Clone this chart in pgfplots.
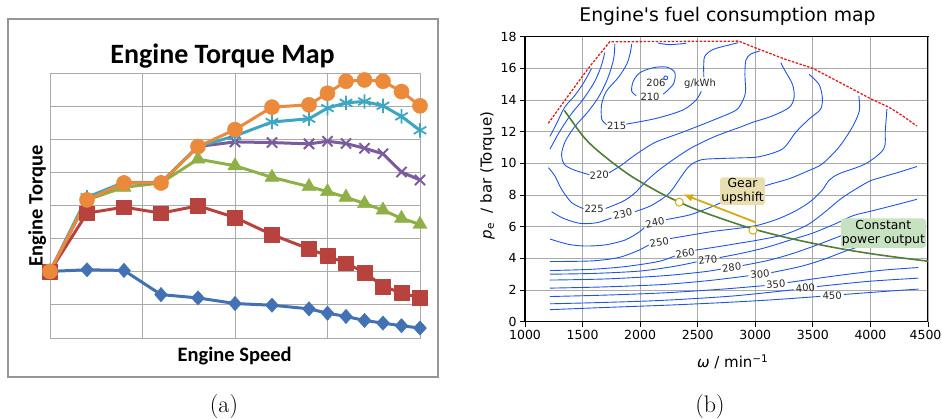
\documentclass[border=0pt]{standalone}
\usepackage{fontspec}
\usepackage{pgfplots}
\pgfplotsset{compat=1.18}
\usetikzlibrary{arrows.meta}
\newfontfamily\dejavu{DejaVu Sans}
\newfontfamily\carlito{Carlito}
\definecolor{xblue}{RGB}{66,114,180}
\definecolor{xred}{RGB}{184,66,62}
\definecolor{xgreen}{RGB}{143,176,71}
\definecolor{xpurple}{RGB}{122,92,158}
\definecolor{xteal}{RGB}{63,166,194}
\definecolor{xorange}{RGB}{235,138,58}
\definecolor{agrid}{RGB}{170,170,170}
\definecolor{aframe}{RGB}{150,150,150}
\definecolor{bgrid}{RGB}{170,170,170}
\definecolor{cblue}{RGB}{30,85,230}
\definecolor{fullred}{RGB}{220,30,30}
\definecolor{powgreen}{RGB}{80,125,55}
\definecolor{gold}{RGB}{215,170,20}
\definecolor{gearfill}{RGB}{233,222,175}
\definecolor{powfill}{RGB}{198,226,192}
\pgfplotsset{
  cont/.style={color=cblue, line width=0.9pt, smooth, no marks},
  ser/.style={line width=3pt, line join=round},
}
\tikzset{clab/.style={font=\dejavu\fontsize{10}{12}\selectfont, text=black!85, inner sep=0pt}}
\begin{document}
\begin{tikzpicture}[x=1pt,y=1pt]
\path[use as bounding box] (0,0) rectangle (942,418);
% ---------------- panel (a)
\draw[color=aframe, line width=1.3pt] (8,41) rectangle (438,399);
\begin{axis}[at={(50pt,80pt)}, anchor=south west, scale only axis,
  width=370pt, height=265pt, xmin=0, xmax=20, ymin=0, ymax=8,
  xtick={0,5,10,15,20}, ytick={0,1,2,3,4,5,6,7,8},
  xticklabels={}, yticklabels={}, major tick length=0pt,
  grid=major, grid style={color=agrid, line width=0.9pt},
  axis line style={color=agrid, line width=0.9pt}, clip=false]
\addplot[ser, color=xblue, mark=diamond*, mark size=7.2pt, mark options={solid, line width=0.4pt, fill=xblue, xscale=1.2}]
 coordinates {(0,2.01)(2,2.06)(4,2.04)(6,1.31)(8,1.21)(10,1.04)(12,0.99)(14,0.88)(15,0.75)(16,0.65)(17,0.53)(18,0.45)(19,0.37)(20,0.30)};
\addplot[ser, color=xred, mark=square*, mark size=7.4pt, mark options={solid, line width=0.4pt, fill=xred}]
 coordinates {(0,2.01)(2,3.77)(4,3.95)(6,3.77)(8,3.99)(10,3.64)(12,3.12)(14,2.69)(15,2.48)(16,2.26)(17,1.98)(18,1.56)(19,1.36)(20,1.21)};
\addplot[ser, color=xgreen, mark=triangle*, mark size=8.2pt, mark options={solid, line width=0.4pt, fill=xgreen}]
 coordinates {(0,2.01)(2,4.17)(4,4.55)(6,4.68)(8,5.40)(10,5.20)(12,4.85)(14,4.57)(15,4.42)(16,4.25)(17,4.06)(18,3.86)(19,3.61)(20,3.43)};
\addplot[ser, color=xpurple, mark=x, mark size=7.2pt, mark options={solid, line width=2pt}]
 coordinates {(0,2.01)(2,4.17)(4,4.68)(6,4.68)(8,5.78)(10,5.92)(12,5.90)(14,5.86)(15,5.94)(16,5.87)(17,5.73)(18,5.56)(19,5.01)(20,4.77)};
\addplot[ser, color=xteal, mark=asterisk, mark size=7.2pt, mark options={solid, line width=1.8pt}]
 coordinates {(0,2.01)(2,4.25)(4,4.70)(6,4.70)(8,5.78)(10,6.10)(12,6.52)(14,6.62)(15,6.94)(16,7.10)(17,7.14)(18,7.01)(19,6.69)(20,6.27)};
\addplot[ser, color=xorange, mark=*, mark size=7.6pt, mark options={solid, line width=0.4pt, fill=xorange}]
 coordinates {(0,2.01)(2,4.17)(4,4.68)(6,4.68)(8,5.78)(10,6.29)(12,6.97)(14,7.04)(15,7.39)(16,7.75)(17,7.79)(18,7.75)(19,7.44)(20,7.01)};
\end{axis}
\node[font=\carlito\bfseries\fontsize{28}{32}\selectfont, anchor=base] at (222.5,354.7) {Engine Torque Map};
\node[font=\carlito\bfseries\fontsize{20.5}{24}\selectfont, anchor=base] at (234.7,57) {Engine Speed};
\node[font=\carlito\bfseries\fontsize{20.5}{24}\selectfont, anchor=base, rotate=90] at (42.7,212.2) {Engine Torque};
\node[font=\fontsize{24}{28}\selectfont, anchor=base] at (224,6) {(a)};
% ---------------- panel (b)
\begin{axis}[at={(525pt,96.3pt)}, anchor=south west, scale only axis,
  width=403pt, height=285pt, xmin=1000, xmax=4500, ymin=0, ymax=18,
  xtick={1000,1500,2000,2500,3000,3500,4000}, ytick={0,2,4,6,8,10,12,14,16,18},
  extra x ticks={4500},
  extra x tick style={xticklabel style={xshift=-2.5pt}},
  grid=major, grid style={color=bgrid, line width=0.9pt},
  axis line style={line width=1.1pt}, tick style={black, line width=0.9pt},
  tick align=outside, major tick length=5pt, xtick pos=bottom, ytick pos=left,
  scaled ticks=false, /pgf/number format/1000 sep={},
  /pgf/number format/assume math mode=true,
  ticklabel style={font=\dejavu\fontsize{12.5}{15}\selectfont}]
% contours
\addplot[cont] coordinates {(2239,15.4)(2234,15.49)(2222,15.52)(2210,15.49)(2205,15.4)(2210,15.31)(2222,15.28)(2234,15.31)(2239,15.4)};
\addplot[cont] coordinates {(2201,14.37)(2288,15.0)(2302,15.73)(2230,16.08)(2114,16.04)(1999,15.73)(1941,15.2)(1926,14.58)(1965,14.28)};
\addplot[cont] coordinates {(2154,17.6)(2255,17.5)(2400,17.58)};
\addplot[cont] coordinates {(1926,17.55)(1915,17.0)(1883,16.25)(1810,15.42)(1709,14.58)(1666,13.74)(1666,12.8)(1709,12.45)};
\addplot[cont] coordinates {(1880,12.48)(2140,12.84)(2371,13.37)(2486,14.0)(2530,14.55)};
\addplot[cont] coordinates {(2553,15.45)(2552,16.2)(2563,16.78)(2636,17.2)(2795,17.52)(2853,17.62)};
\addplot[cont] coordinates {(1217,11.7)(1280,12.6)(1346,13.56)(1433,14.29)(1510,15.1)(1577,15.98)};
\addplot[cont] coordinates {(1217,10.9)(1300,12.0)(1400,13.1)(1500,14.0)(1600,15.1)(1660,16.1)(1693,17.0)};
\addplot[cont] coordinates {(1780,17.55)(1770,16.6)(1720,15.4)(1640,14.2)(1540,13.2)(1430,12.3)(1350,11.4)(1318,10.6)(1340,9.95)(1420,9.6)(1560,9.28)};
\addplot[cont] coordinates {(1730,9.4)(1840,9.9)(1950,10.5)(2129,11.32)(2361,11.95)(2621,12.69)(2824,13.32)(2880,13.8)(2915,14.5)(2910,15.6)(2918,16.5)(2960,16.9)(3041,17.1)};
\addplot[cont] coordinates {(1203,9.73)(1260,9.2)(1318,8.36)(1405,7.52)(1507,7.14)};
\addplot[cont] coordinates {(1700,7.15)(1850,7.6)(1950,8.1)(2050,8.85)(2150,9.5)(2300,10.3)(2450,11.0)(2650,11.7)(2862,12.27)(2977,12.59)(3150,13.0)(3294,13.53)(3337,14.16)(3323,14.99)(3251,15.94)(3222,16.36)};
\addplot[cont] coordinates {(1231,6.95)(1333,6.53)(1477,6.21)(1622,6.25)(1750,6.55)};
\addplot[cont] coordinates {(1955,6.95)(2100,7.35)(2250,8.1)(2350,9.1)(2430,9.85)(2534,10.23)(2708,10.31)(2882,10.35)(3035,10.42)(3236,10.91)(3351,11.96)(3467,12.8)(3567,13.42)(3582,14.16)(3553,14.99)(3467,15.62)};
\addplot[cont] coordinates {(1217,5.22)(1376,4.89)(1521,4.78)(1695,4.85)(1869,5.16)(1999,5.7)(2035,5.95)};
\addplot[cont] coordinates {(2225,6.45)(2428,6.74)(2601,7.2)(2775,7.75)(2948,8.2)(3092,8.6)(3294,9.03)(3450,9.5)(3582,9.97)(3726,11.02)(3841,12.27)(3904,13.32)(3899,14.26)};
\addplot[cont] coordinates {(1217,3.8)(1579,3.84)(1811,4.05)(1985,4.5)(2075,4.85)};
\addplot[cont] coordinates {(2260,5.25)(2448,5.48)(2621,5.69)(2853,5.9)(3026,6.1)(3200,6.5)(3350,7.0)(3480,7.6)(3580,8.3)(3640,8.92)(3726,9.34)(3956,9.97)(4115,10.91)(4129,12.06)(4143,13.42)};
\addplot[cont] coordinates {(1217,3.23)(1579,3.31)(1869,3.48)(2158,3.8)(2300,4.15)};
\addplot[cont] coordinates {(2480,4.52)(2679,4.74)(2853,4.95)(3027,5.16)(3250,5.5)(3450,6.1)(3600,6.9)(3750,7.8)(3900,8.5)(4000,8.9)(4100,9.13)(4250,9.45)(4403,9.8)};
\addplot[cont] coordinates {(1217,3.0)(1600,3.05)(2000,3.2)(2300,3.5)(2490,3.78)};
\addplot[cont] coordinates {(2690,4.05)(2900,4.35)(3100,4.7)(3300,5.15)(3500,5.6)(3700,6.2)(3850,6.7)(4014,7.0)(4215,7.37)(4403,7.73)};
\addplot[cont] coordinates {(1217,2.63)(1700,2.7)(2200,2.9)(2550,3.15)(2700,3.32)};
\addplot[cont] coordinates {(2890,3.55)(3100,3.85)(3300,4.25)(3500,4.75)(3700,5.3)(3900,5.85)(4100,6.15)(4416,6.4)};
\addplot[cont] coordinates {(1217,2.12)(1700,2.2)(2200,2.35)(2600,2.6)(2940,2.9)};
\addplot[cont] coordinates {(3140,3.1)(3400,3.5)(3600,3.95)(3800,4.5)(4000,4.9)(4416,5.2)};
\addplot[cont] coordinates {(1217,1.59)(1700,1.68)(2200,1.82)(2700,2.05)(3080,2.28)};
\addplot[cont] coordinates {(3280,2.47)(3700,2.9)(4100,3.25)(4416,3.42)};
\addplot[cont] coordinates {(1217,1.13)(1700,1.22)(2200,1.35)(2800,1.62)(3335,2.02)};
\addplot[cont] coordinates {(3535,2.22)(3986,2.55)(4416,2.75)};
\addplot[cont] coordinates {(1217,0.76)(1700,0.9)(2255,1.05)(2700,1.2)(3120,1.37)(3565,1.6)};
\addplot[cont] coordinates {(3770,1.72)(4100,1.9)(4416,2.06)};
% full load line
\addplot[color=fullred, line width=1.3pt, dash pattern=on 2.5pt off 1.5pt, no marks]
 coordinates {(1202,12.53)(1390,14.42)(1560,16.1)(1736,17.68)(2855,17.72)(3000,17.3)(3250,16.6)(3500,16.0)(3750,15.05)(4010,14.05)(4160,13.55)(4280,13.0)(4403,12.36)};
% constant power
\addplot[color=powgreen, line width=1.6pt, smooth, no marks]
 coordinates {(1341,13.35)(1400,12.75)(1500,11.75)(1600,11.0)(1750,10.1)(1900,9.3)(2000,8.85)(2170,8.15)(2340,7.55)(2500,7.05)(2750,6.4)(2985,5.85)(3250,5.35)(3500,4.95)(3750,4.6)(4000,4.3)(4250,4.05)(4500,3.82)};
% gear upshift arrow
\addplot[color=gold, line width=1.8pt, -{Latex[length=10pt,width=8pt]}, no marks]
 coordinates {(3005,6.27)(2372,8.05)};
\addplot[only marks, mark=*, mark size=4pt, mark options={fill=white, draw=gold, line width=1pt}]
 coordinates {(2340,7.55)(2980,5.78)};
% labels
\node[clab] at (axis cs:2138,15.06) {206};
\node[clab] at (axis cs:2086,14.18) {210};
\node[clab] at (axis cs:2520,15.06) {g/kWh};
\node[clab] at (axis cs:1796,12.38) {215};
\node[clab, rotate=3] at (axis cs:1645,9.27) {220};
\node[clab] at (axis cs:1600,7.1) {225};
\node[clab, rotate=12] at (axis cs:1848,6.8) {230};
\node[clab, rotate=12] at (axis cs:2129,6.25) {240};
\node[clab, rotate=10] at (axis cs:2166,5.02) {250};
\node[clab, rotate=10] at (axis cs:2390,4.32) {260};
\node[clab, rotate=8] at (axis cs:2587,3.9) {270};
\node[clab, rotate=7] at (axis cs:2795,3.43) {280};
\node[clab, rotate=7] at (axis cs:3041,3.0) {300};
\node[clab, rotate=5] at (axis cs:3178,2.37) {350};
\node[clab, rotate=5] at (axis cs:3435,2.13) {400};
\node[clab, rotate=3] at (axis cs:3668,1.65) {450};
\node[fill=gearfill, rounded corners=3pt, align=center, inner sep=1pt, minimum width=45pt, minimum height=27pt, font=\dejavu\fontsize{12.4}{14}\selectfont] at (axis cs:2889,8.24) {Gear\\upshift};
\node[fill=powfill, rounded corners=3pt, align=center, inner sep=1pt, minimum width=85pt, minimum height=29.5pt, font=\dejavu\fontsize{12.4}{14}\selectfont] at (axis cs:4112,5.6) {Constant\\power output};
\end{axis}
\node[font=\dejavu\fontsize{18.8}{22}\selectfont, anchor=base] at (727.5,396.3) {Engine's fuel consumption map};
\node[font=\dejavu\fontsize{15}{18}\selectfont, anchor=base] at (732.7,50.7) {\textit{ω} / min\textsuperscript{−1}};
\node[font=\dejavu\fontsize{15}{18}\selectfont, anchor=base, rotate=90] at (491.7,242.5) {\textit{p}\textsubscript{e}\ \ / bar (Torque)};
\node[font=\fontsize{24}{28}\selectfont, anchor=base] at (710,6) {(b)};
\end{tikzpicture}
\end{document}
